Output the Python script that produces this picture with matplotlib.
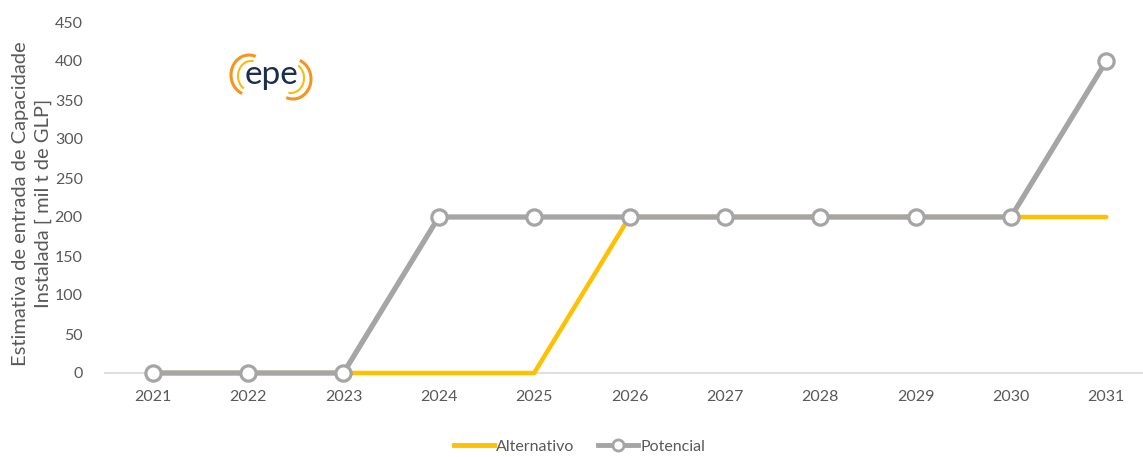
import matplotlib.pyplot as plt
from matplotlib.patches import Arc
from matplotlib.lines import Line2D

# data
years = ['2021', '2022', '2023', '2024', '2025', '2026', '2027', '2028', '2029', '2030', '2031']
alternativo = [0, 0, 0, 0, 0, 200, 200, 200, 200, 200, 200]
potencial = [0, 0, 0, 200, 200, 200, 200, 200, 200, 200, 400]

yellow = '#FFC000'
gray = '#A5A5A5'
txt = '#595959'

plt.rcParams['font.family'] = ['Lato', 'DejaVu Sans']

fig = plt.figure(figsize=(11.43, 4.57), dpi=100)
ax = fig.add_axes([105 / 1143, 84 / 457, 1049 / 1143, 351 / 457])

x = list(range(len(years)))
ax.plot(x, alternativo, color=yellow, lw=3.2, solid_capstyle='round', zorder=3, clip_on=False)
ax.plot(x, potencial, color=gray, lw=3.8, marker='o', markersize=11,
        markerfacecolor='white', markeredgecolor=gray, markeredgewidth=2.3,
        solid_capstyle='round', zorder=4, clip_on=False)

ax.set_xlim(-0.5, 10.5)
ax.set_ylim(0, 450)
ax.set_yticks(range(0, 451, 50))
ax.set_xticks(x)
ax.set_xticklabels(years)
ax.tick_params(length=0, colors=txt, labelsize=11.5)
ax.tick_params(axis='x', pad=12)
ax.tick_params(axis='y', pad=16)
for s in ['top', 'right', 'left']:
    ax.spines[s].set_visible(False)
ax.spines['bottom'].set_color('#D9D9D9')
ax.spines['bottom'].set_linewidth(1.2)
ax.spines['bottom'].set_zorder(1)

fig.text(0.028, 0.555, 'Estimativa de entrada de Capacidade\nInstalada [ mil t de GLP]',
         rotation=90, ha='center', va='center', color=txt, fontsize=14.5,
         linespacing=1.35)

# legend
handles = [Line2D([], [], color=yellow, lw=3.5),
           Line2D([], [], color=gray, lw=3.5, marker='o', markersize=8,
                  markerfacecolor='white', markeredgecolor=gray, markeredgewidth=2)]
fig.legend(handles, ['Alternativo', 'Potencial'], loc='center', bbox_to_anchor=(0.507, 0.022),
           ncol=2, frameon=False, fontsize=11.5, labelcolor=txt, handlelength=2.5,
           handletextpad=0.15, columnspacing=1.5)

# epe logo
def fx(px):
    return px / 1143
def fy(py):
    return py / 457
logo = fig.add_axes([fx(225), fy(457 - 102), fx(90), fy(50)])
logo.set_xlim(0, 90)
logo.set_ylim(0, 50)
logo.axis('off')
logo.add_patch(Arc((24, 27), 36, 40, theta1=70, theta2=250, color='#F7941D', lw=2.2))
logo.add_patch(Arc((26, 26), 26, 30, theta1=80, theta2=240, color='#FDB913', lw=1.5))
logo.add_patch(Arc((68, 23), 36, 40, theta1=250, theta2=430, color='#F7941D', lw=2.2))
logo.add_patch(Arc((66, 24), 26, 30, theta1=260, theta2=420, color='#FDB913', lw=1.5))
logo.text(46, 27, 'epe', ha='center', va='center', fontsize=24, color='#1B2F4B')

fig.savefig('out.png', dpi=100)
